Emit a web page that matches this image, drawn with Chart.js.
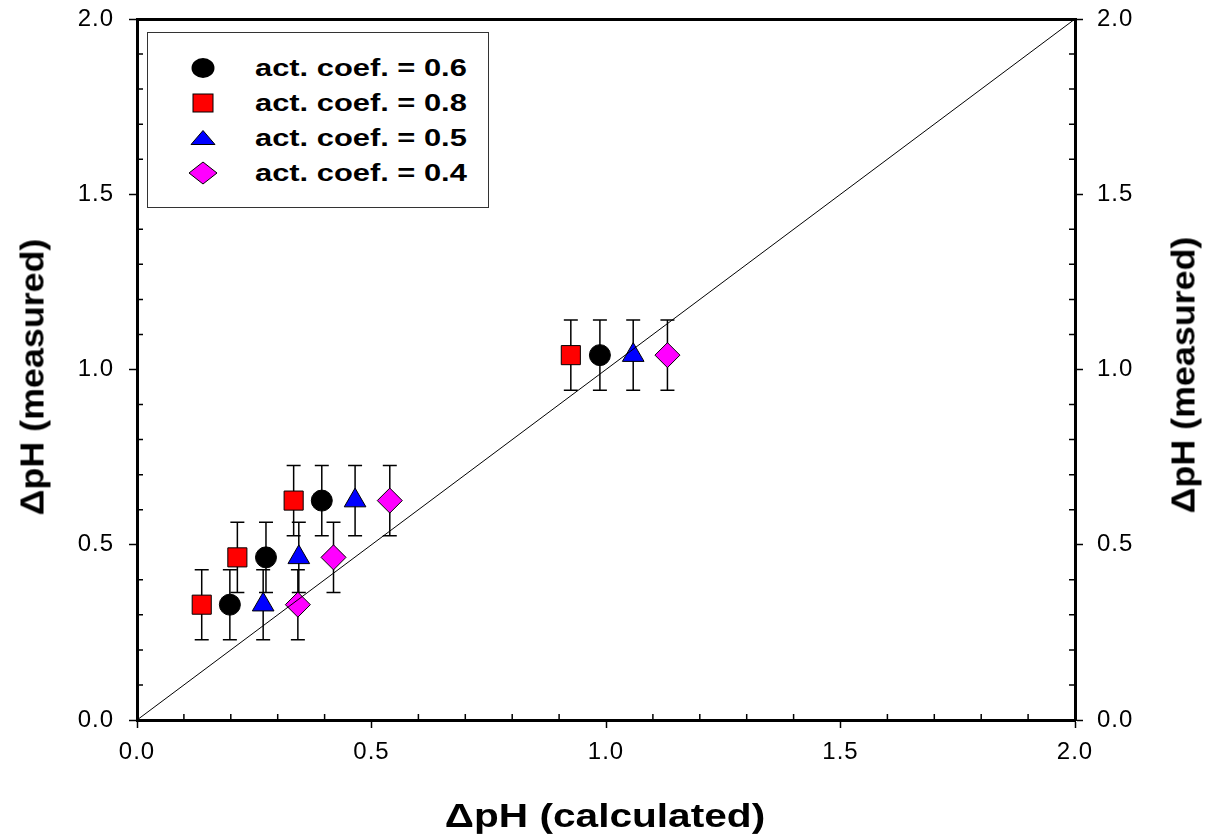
<!DOCTYPE html>
<html>
<head>
<meta charset="utf-8">
<title>dpH measured vs calculated</title>
<script src="https://cdn.jsdelivr.net/npm/chart.js@4.4.1/dist/chart.umd.min.js"></script>
<style>
  body { margin: 0; background: #fff; }
  #wrap { position: relative; width: 1208px; height: 835px; font-family: 'Liberation Sans', Arial, sans-serif; color: #000; }
  #chart { position: absolute; left: 0; top: 0; }
  .title { position: absolute; font-weight: bold; font-size: 33px; line-height: 33px; white-space: nowrap; }
  #legend { position: absolute; left: 147px; top: 32px; width: 340px; height: 174px; border: 1px solid #333; background: #fff; }
  .row { position: absolute; left: 0; width: 100%; height: 30px; }
  .row svg { position: absolute; left: 39px; top: 0; }
  .row span { position: absolute; left: 107px; top: 0; font-weight: bold; font-size: 23px; line-height: 30px; white-space: nowrap; transform-origin: left center; }
</style>
</head>
<body>
<div id="wrap">
  <canvas id="chart" width="1208" height="835"></canvas>
  <div id="legend"></div>
  <span class="title" id="xTitle">ΔpH (calculated)</span>
  <span class="title" id="yTitle">ΔpH (measured)</span>
  <span class="title" id="y2Title">ΔpH (measured)</span>
</div>
<script>
//
//    dpH measured vs calculated, four activity coefficients
//
const seriesLabels = ['act. coef. = 0.6', 'act. coef. = 0.8', 'act. coef. = 0.5', 'act. coef. = 0.4'];
const xCoef06 = [0.198, 0.275, 0.394, 0.987];
const xCoef08 = [0.138, 0.214, 0.334, 0.925];
const xCoef05 = [0.269, 0.345, 0.465, 1.058];
const xCoef04 = [0.343, 0.419, 0.539, 1.131];
const yMeasured = [0.329, 0.464, 0.626, 1.041];
const yError = [0.1, 0.1, 0.1, 0.1];
const lineX = [0, 2];
const lineY = [0, 2];
const tickValues = [0, 0.5, 1.0, 1.5, 2.0];

const seriesX = [xCoef06, xCoef08, xCoef05, xCoef04];
const seriesStyle = [
  { color: '#000000', shape: 'circle',   radius: 10.5 },
  { color: '#ff0000', shape: 'rect',     radius: 13.5 },
  { color: '#0000ff', shape: 'triangle', radius: 12.5 },
  { color: '#ff00ff', shape: 'rectRot',  radius: 12.5 }
];
const legendIcons = [
  '<ellipse cx="16" cy="15" rx="11.5" ry="10" fill="#000"/>',
  '<rect x="6" y="6" width="20" height="18" fill="#ff0000" stroke="#000" stroke-width="1"/>',
  '<polygon points="16,7.5 28,21.5 4,21.5" fill="#0000ff" stroke="#000" stroke-width="1"/>',
  '<polygon points="16,4 30,15 16,26 2,15" fill="#ff00ff" stroke="#000" stroke-width="1"/>'
];

var tickFont = { family: "'Liberation Sans', Arial, sans-serif", size: 24 };

// slightly wider tick text, as in the picture
var spacing = {
  id: 'spacing',
  beforeLayout(chart) { chart.ctx.letterSpacing = '1px'; },
  beforeDraw(chart) { chart.ctx.letterSpacing = '1px'; }
};

// error bars drawn under the markers
var errorBars = {
  id: 'errorBars',
  beforeDatasetsDraw(chart) {
    let ctx = chart.ctx, xs = chart.scales.x, ys = chart.scales.y;
    ctx.save();
    ctx.strokeStyle = '#000';
    ctx.lineWidth = 1.5;
    chart.data.datasets.forEach(ds => {
      if (!ds.errors) return;
      ds.data.forEach((p, i) => {
        let px = xs.getPixelForValue(p.x);
        let top = ys.getPixelForValue(p.y + ds.errors[i]);
        let bot = ys.getPixelForValue(p.y - ds.errors[i]);
        ctx.beginPath();
        ctx.moveTo(px, top); ctx.lineTo(px, bot);
        ctx.moveTo(px - 7, top); ctx.lineTo(px + 7, top);
        ctx.moveTo(px - 7, bot); ctx.lineTo(px + 7, bot);
        ctx.stroke();
      });
    });
    ctx.restore();
  }
};

// small inside ticks every 0.1
var minorTicks = {
  id: 'minorTicks',
  afterDraw(chart) {
    let ctx = chart.ctx, a = chart.chartArea;
    let xs = chart.scales.x, ys = chart.scales.y;
    ctx.save();
    ctx.strokeStyle = '#000';
    ctx.lineWidth = 1.5;
    ctx.beginPath();
    for (let k = 1; k < 20; k++) {
      if (k % 5 === 0) continue;
      let px = xs.getPixelForValue(k / 10);
      let py = ys.getPixelForValue(k / 10);
      ctx.moveTo(px, a.bottom); ctx.lineTo(px, a.bottom - 6);
      ctx.moveTo(a.left, py);   ctx.lineTo(a.left + 6, py);
      ctx.moveTo(a.right, py);  ctx.lineTo(a.right - 6, py);
    }
    ctx.stroke();
    ctx.restore();
  }
};

function valueAxis(position, size, pad) {
  return {
    type: 'linear',
    position: position,
    min: 0,
    max: 2,
    afterBuildTicks: s => { s.ticks = tickValues.map(v => ({ value: v })); },
    afterFit: s => {
      if (position === 'bottom') s.height = size; else s.width = size;
      s.paddingTop = 0; s.paddingBottom = 0; s.paddingLeft = 0; s.paddingRight = 0;
    },
    ticks: {
      color: '#000',
      font: tickFont,
      padding: pad,
      callback: v => v.toFixed(1)
    },
    grid: { drawOnChartArea: false, tickLength: 8, tickWidth: 1.5, tickColor: '#000' },
    border: { color: '#000', width: 3 }
  };
}

let datasets = seriesLabels.map((label, s) => ({
  label: label,
  data: seriesX[s].map((x, i) => ({ x: x, y: yMeasured[i] })),
  errors: yError,
  pointStyle: seriesStyle[s].shape,
  pointRadius: seriesStyle[s].radius,
  backgroundColor: seriesStyle[s].color,
  borderColor: '#000',
  borderWidth: 1,
  order: 1
}));

datasets.push({
  label: '1:1',
  data: lineX.map((x, i) => ({ x: x, y: lineY[i] })),
  showLine: true,
  pointRadius: 0,
  borderColor: '#000',
  borderWidth: 1,
  order: 0
});

var ctx = document.getElementById('chart').getContext('2d');
var chart = new Chart(ctx, {
  type: 'scatter',
  data: { datasets: datasets },
  options: {
    responsive: false,
    animation: false,
    events: [],
    layout: { padding: 0 },
    plugins: { legend: { display: false }, tooltip: { enabled: false } },
    scales: {
      x: valueAxis('bottom', 115, 10),
      y: valueAxis('left', 137, 15),
      y2: valueAxis('right', 133, 14),
      xTop: {
        type: 'linear',
        position: 'top',
        min: 0,
        max: 2,
        afterFit: s => { s.height = 19; },
        ticks: { display: false },
        grid: { drawOnChartArea: false, drawTicks: false },
        border: { color: '#000', width: 3 }
      }
    }
  },
  plugins: [spacing, errorBars, minorTicks]
});

// legend box, built from the same series
var legend = document.getElementById('legend');
seriesLabels.forEach((label, s) => {
  let row = document.createElement('div');
  row.className = 'row';
  row.style.top = (20 + s * 35) + 'px';
  row.innerHTML = '<svg width="32" height="30">' + legendIcons[s] + '</svg><span>' + label + '</span>';
  legend.appendChild(row);
  let span = row.querySelector('span');
  span.style.transform = 'scaleX(' + (212 / span.offsetWidth) + ')';
});

// axis titles, stretched to the widths in the picture
function placeTitle(id, cx, cy, angle, width) {
  let el = document.getElementById(id);
  el.style.left = cx + 'px';
  el.style.top = cy + 'px';
  el.style.transform = 'translate(-50%,-50%) rotate(' + angle + 'deg) scaleX(' + (width / el.offsetWidth) + ')';
}
placeTitle('xTitle', 605, 815, 0, 320);
placeTitle('yTitle', 32, 377, -90, 277);
placeTitle('y2Title', 1183, 375, -90, 277);
</script>
</body>
</html>
